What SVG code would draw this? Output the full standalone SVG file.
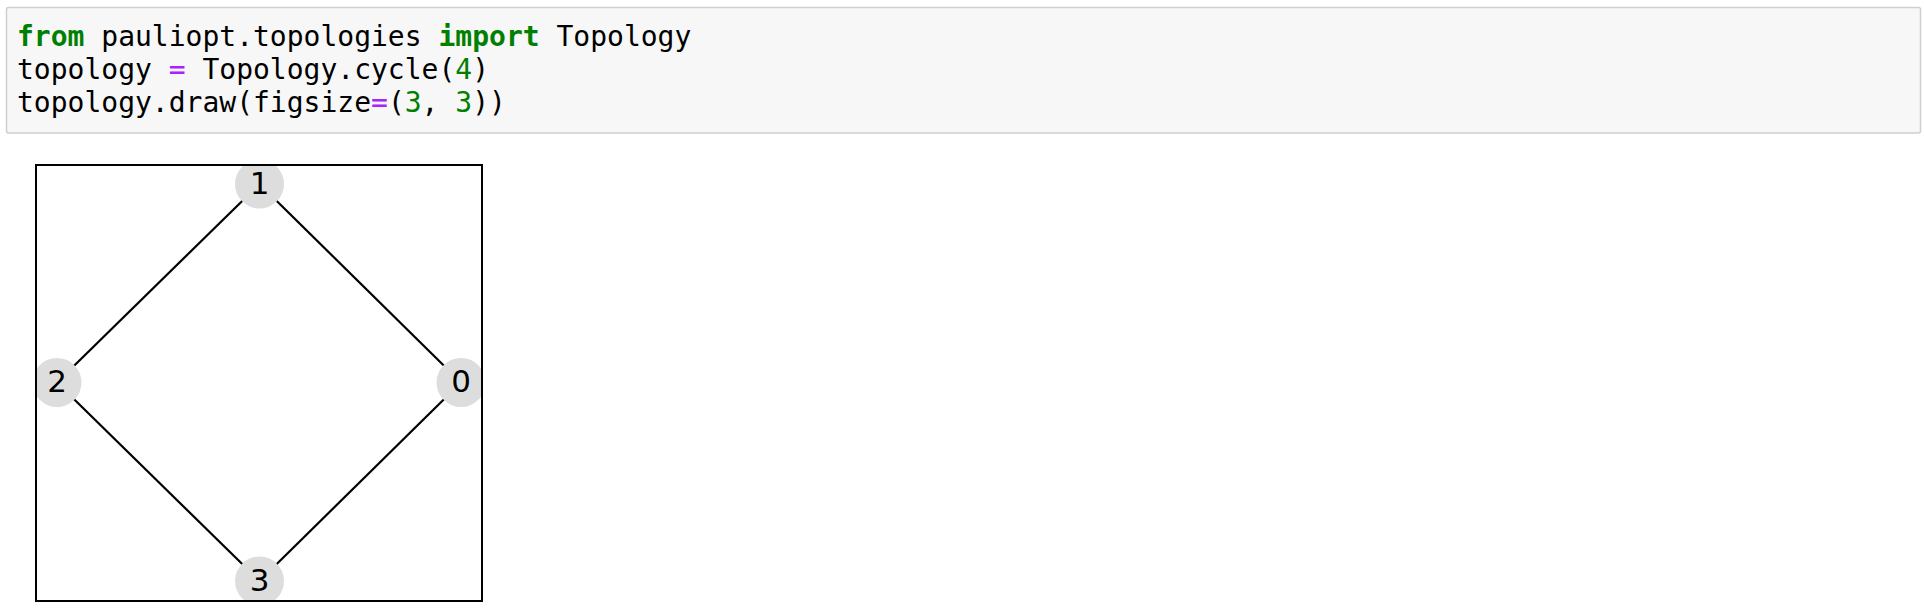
<svg xmlns="http://www.w3.org/2000/svg" width="1924" height="610" viewBox="0 0 1924 610">
  <style>
    .code { font-family: "DejaVu Sans Mono", "Liberation Mono", monospace; font-size: 28px; fill: #000000; }
    .kw { fill: #008000; font-weight: bold; }
    .op { fill: #aa22ff; }
    .num { fill: #008000; }
    .node circle { fill: #dddddd; stroke: none; }
    .node text { font-family: "DejaVu Sans", sans-serif; font-size: 31px; fill: #000000; text-anchor: middle; dominant-baseline: central; }
    .edge { stroke: #000000; stroke-width: 2.2; fill: none; }
  </style>
  <defs>
    <clipPath id="axes">
      <rect x="36" y="165" width="446" height="436"/>
    </clipPath>
  </defs>
  <rect width="1924" height="610" fill="#ffffff"/>
  <g id="code-cell">
    <rect x="6.5" y="7.5" width="1914" height="125.5" rx="2" fill="#f7f7f7" stroke="#cfcfcf" stroke-width="1.5"/>
    <text class="code" x="17" y="46"><tspan class="kw">from</tspan> pauliopt.topologies <tspan class="kw">import</tspan> Topology</text>
    <text class="code" x="17" y="79">topology <tspan class="op">=</tspan> Topology.cycle(<tspan class="num">4</tspan>)</text>
    <text class="code" x="17" y="112">topology.draw(figsize<tspan class="op">=</tspan>(<tspan class="num">3</tspan>, <tspan class="num">3</tspan>))</text>
  </g>
  <g id="plot" clip-path="url(#axes)">
    <g id="connectors">
      <line class="edge" x1="461" y1="382.5" x2="259.5" y2="184"/>
      <line class="edge" x1="259.5" y1="184" x2="57" y2="382.5"/>
      <line class="edge" x1="57" y1="382.5" x2="259.5" y2="581"/>
      <line class="edge" x1="259.5" y1="581" x2="461" y2="382.5"/>
    </g>
    <g id="node-0" class="node"><circle cx="461" cy="382.5" r="24.5"/><text x="461" y="381">0</text></g>
    <g id="node-1" class="node"><circle cx="259.5" cy="184" r="24.5"/><text x="259.5" y="182.5">1</text></g>
    <g id="node-2" class="node"><circle cx="57" cy="382.5" r="24.5"/><text x="57" y="381">2</text></g>
    <g id="node-3" class="node"><circle cx="259.5" cy="581" r="24.5"/><text x="259.5" y="579.5">3</text></g>
  </g>
  <rect id="frame" x="36" y="165" width="446" height="436" fill="none" stroke="#000000" stroke-width="2"/>
</svg>
